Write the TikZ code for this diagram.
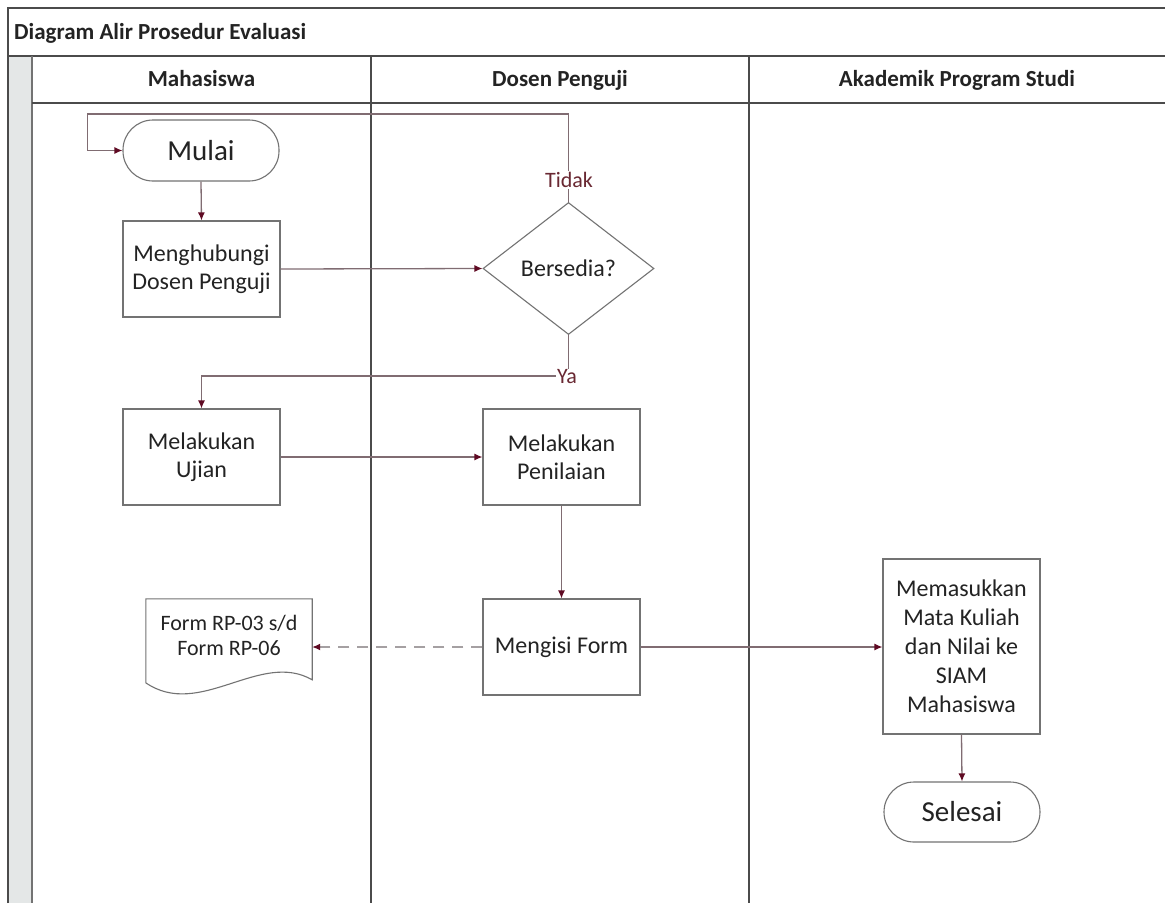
\documentclass[tikz,border=0pt]{standalone}
\usepackage{fontspec}
\setmainfont{Carlito}
\usetikzlibrary{shapes.geometric,arrows.meta,calc}
\definecolor{conn}{RGB}{128,108,114}
\definecolor{dashc}{RGB}{165,160,162}
\definecolor{tipc}{RGB}{95,10,35}
\definecolor{boxc}{RGB}{115,115,115}
\definecolor{lanec}{RGB}{75,75,75}
\definecolor{txt}{RGB}{35,35,35}
\definecolor{stripc}{RGB}{228,231,231}
\definecolor{lblc}{RGB}{105,40,50}
\begin{document}
\begin{tikzpicture}[x=1pt,y=-1pt,
  proc/.style={draw=boxc, line width=1.1pt, minimum width=157pt, minimum height=96pt, inner sep=0pt, align=center, text=txt, font=\fontsize{24}{28}\selectfont, fill=white},
  term/.style={draw=boxc, line width=1.1pt, minimum width=156pt, minimum height=61pt, rounded corners=30pt, inner sep=0pt, text=txt, font=\fontsize{29}{34}\selectfont, fill=white},
  decision/.style={draw=boxc, line width=1.1pt, diamond, aspect=1.3, minimum width=171pt, minimum height=132pt, inner sep=0pt, text=txt, font=\fontsize{24}{28}\selectfont, fill=white},
  lanehead/.style={anchor=base, text=txt, font=\fontsize{23}{28}\selectfont\bfseries},
  lbl/.style={text=lblc, font=\fontsize{22}{26}\selectfont, fill=white, inner sep=1pt},
  arr/.style={draw=conn, line width=1.3pt, -{Latex[length=8pt,width=7pt,color=tipc]}},
  frame/.style={draw=lanec, line width=1.5pt}
]
\useasboundingbox (0,0) rectangle (1165,903);
\fill[white] (0,0) rectangle (1165,903);
% pool frame
\fill[stripc] (8,56) rectangle (32,903);
\draw[frame] (8,903) -- (8,8) -- (1165,8);
\draw[frame] (8,56) -- (1165,56);
\draw[draw=boxc, line width=1.2pt] (32,56) -- (32,903);
\draw[frame] (32,103) -- (1165,103);
\draw[frame] (371,56) -- (371,903);
\draw[frame] (749,56) -- (749,903);
\node[anchor=base west, text=txt, font=\fontsize{23}{28}\selectfont\bfseries, inner sep=0pt] (title) at (14,39) {Diagram Alir Prosedur Evaluasi};
\node[lanehead] (h1) at (201.5,86) {Mahasiswa};
\node[lanehead] (h2) at (560,86) {Dosen Penguji};
\node[lanehead] (h3) at (957,86) {Akademik Program Studi};

% nodes
\node[term] (mulai) at (201,150.5) {Mulai};
\node[proc] (hub) at (201.5,269) {Menghubungi\\Dosen Penguji};
\node[decision] (dia) at (568.5,268.5) {Bersedia?};
\node[proc] (ujian) at (201.5,457) {Melakukan\\Ujian};
\node[proc] (nilai) at (561.5,457) {Melakukan\\Penilaian};
\node[proc] (form) at (561.5,647) {Mengisi Form};
\node[proc, minimum height=175pt, font=\fontsize{24}{29}\selectfont] (masuk) at (961.5,646.5) {Memasukkan\\Mata Kuliah\\dan Nilai ke\\SIAM\\Mahasiswa};
\node[term, minimum height=60pt] (selesai) at (962,812) {Selesai};

% document
\node[minimum width=166pt, minimum height=96pt, inner sep=0pt] (doc) at (229,647) {};
\draw[draw=boxc, line width=1.1pt, fill=white] (doc.north west) -- (doc.north east) -- ($(doc.north east)+(0,81)$) .. controls +(-52,-30) and +(54,37) .. ($(doc.north west)+(0,84)$) -- cycle;
\node[align=center, text=txt, font=\fontsize{22}{25}\selectfont, inner sep=0pt] (doctext) at (229,635) {Form RP-03 s/d\\Form RP-06};

% connectors
\draw[arr] (mulai.south) -- (hub.north);
\draw[arr] (hub.east) -- (dia.west);
\draw[arr] (dia.north) -- ++(0,-88) -| ($(mulai.west)+(-35,0)$) -- (mulai.west);
\node[lbl] (tidak) at (569,180) {Tidak};
\draw[arr] (dia.south) -- ++(0,41) -| (ujian.north);
\node[lbl] (ya) at (567,377) {Ya};
\draw[arr] (ujian.east) -- (nilai.west);
\draw[arr] (nilai.south) -- (form.north);
\draw[arr, draw=dashc, dash pattern=on 11pt off 8pt] (form.west) -- (form.west -| doc.east);
\draw[arr] (form.east) -- (form.east -| masuk.west);
\draw[arr] (masuk.south) -- (selesai.north);
\end{tikzpicture}
\end{document}
